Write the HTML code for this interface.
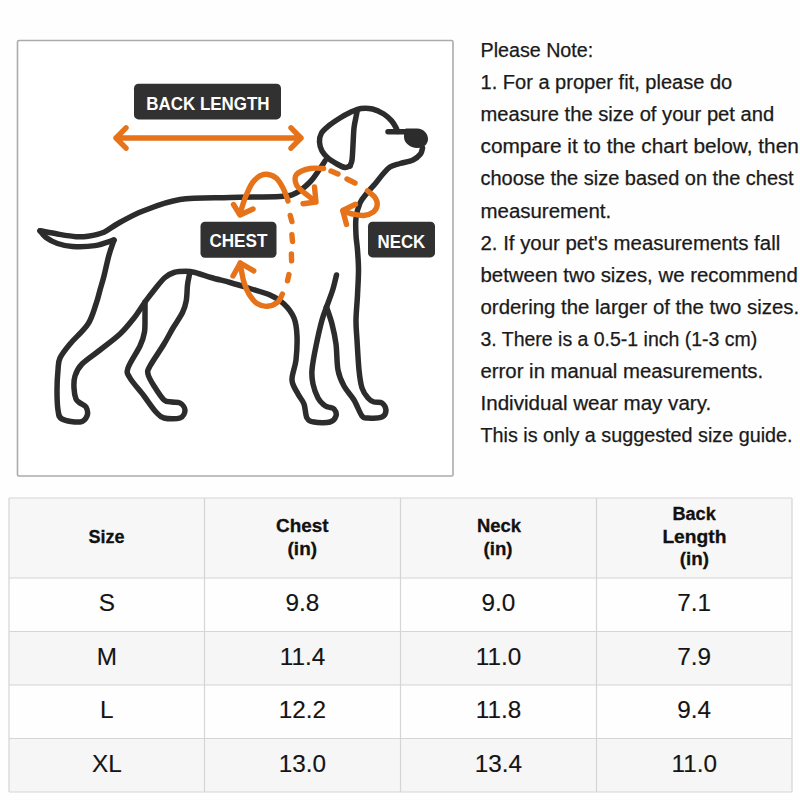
<!DOCTYPE html>
<html><head><meta charset="utf-8">
<style>
html,body{margin:0;padding:0;background:#fefefe;}
body{width:800px;height:800px;position:relative;overflow:hidden;font-family:"Liberation Sans",sans-serif;}
svg text{font-family:"Liberation Sans",sans-serif;}
</style></head>
<body>
<svg width="800" height="800" viewBox="0 0 800 800" style="position:absolute;left:0;top:0"><rect x="17.5" y="40.5" width="435.5" height="435.5" rx="1.5" fill="#ffffff" stroke="#ababab" stroke-width="1.6"/><rect x="9" y="498" width="783" height="80" fill="#f8f7f7"/><rect x="9" y="578" width="783" height="53.5" fill="#fefefe"/><rect x="9" y="631.5" width="783" height="53.5" fill="#f7f6f6"/><rect x="9" y="685" width="783" height="53.5" fill="#fefefe"/><rect x="9" y="738.5" width="783" height="53.5" fill="#f7f6f6"/><g stroke="#d6d4d4" stroke-width="1.2"><line x1="9" y1="498" x2="9" y2="792"/><line x1="204.5" y1="498" x2="204.5" y2="792"/><line x1="400.5" y1="498" x2="400.5" y2="792"/><line x1="596.5" y1="498" x2="596.5" y2="792"/><line x1="792" y1="498" x2="792" y2="792"/><line x1="9" y1="498" x2="792" y2="498"/><line x1="9" y1="578" x2="792" y2="578"/><line x1="9" y1="631.5" x2="792" y2="631.5"/><line x1="9" y1="685" x2="792" y2="685"/><line x1="9" y1="738.5" x2="792" y2="738.5"/><line x1="9" y1="792" x2="792" y2="792"/></g><g fill="#000" fill-opacity="0.02" font-size="34" font-weight="bold" letter-spacing="8"><text x="-160" y="-55" transform="rotate(-33 -160 -55)">TEMU</text><text x="8" y="-55" transform="rotate(-33 8 -55)">TEMU</text><text x="176" y="-55" transform="rotate(-33 176 -55)">TEMU</text><text x="344" y="-55" transform="rotate(-33 344 -55)">TEMU</text><text x="512" y="-55" transform="rotate(-33 512 -55)">TEMU</text><text x="680" y="-55" transform="rotate(-33 680 -55)">TEMU</text><text x="848" y="-55" transform="rotate(-33 848 -55)">TEMU</text><text x="-160" y="85" transform="rotate(-33 -160 85)">TEMU</text><text x="8" y="85" transform="rotate(-33 8 85)">TEMU</text><text x="176" y="85" transform="rotate(-33 176 85)">TEMU</text><text x="344" y="85" transform="rotate(-33 344 85)">TEMU</text><text x="512" y="85" transform="rotate(-33 512 85)">TEMU</text><text x="680" y="85" transform="rotate(-33 680 85)">TEMU</text><text x="848" y="85" transform="rotate(-33 848 85)">TEMU</text><text x="-160" y="225" transform="rotate(-33 -160 225)">TEMU</text><text x="8" y="225" transform="rotate(-33 8 225)">TEMU</text><text x="176" y="225" transform="rotate(-33 176 225)">TEMU</text><text x="344" y="225" transform="rotate(-33 344 225)">TEMU</text><text x="512" y="225" transform="rotate(-33 512 225)">TEMU</text><text x="680" y="225" transform="rotate(-33 680 225)">TEMU</text><text x="848" y="225" transform="rotate(-33 848 225)">TEMU</text><text x="-160" y="365" transform="rotate(-33 -160 365)">TEMU</text><text x="8" y="365" transform="rotate(-33 8 365)">TEMU</text><text x="176" y="365" transform="rotate(-33 176 365)">TEMU</text><text x="344" y="365" transform="rotate(-33 344 365)">TEMU</text><text x="512" y="365" transform="rotate(-33 512 365)">TEMU</text><text x="680" y="365" transform="rotate(-33 680 365)">TEMU</text><text x="848" y="365" transform="rotate(-33 848 365)">TEMU</text><text x="-160" y="505" transform="rotate(-33 -160 505)">TEMU</text><text x="8" y="505" transform="rotate(-33 8 505)">TEMU</text><text x="176" y="505" transform="rotate(-33 176 505)">TEMU</text><text x="344" y="505" transform="rotate(-33 344 505)">TEMU</text><text x="512" y="505" transform="rotate(-33 512 505)">TEMU</text><text x="680" y="505" transform="rotate(-33 680 505)">TEMU</text><text x="848" y="505" transform="rotate(-33 848 505)">TEMU</text><text x="-160" y="645" transform="rotate(-33 -160 645)">TEMU</text><text x="8" y="645" transform="rotate(-33 8 645)">TEMU</text><text x="176" y="645" transform="rotate(-33 176 645)">TEMU</text><text x="344" y="645" transform="rotate(-33 344 645)">TEMU</text><text x="512" y="645" transform="rotate(-33 512 645)">TEMU</text><text x="680" y="645" transform="rotate(-33 680 645)">TEMU</text><text x="848" y="645" transform="rotate(-33 848 645)">TEMU</text><text x="-160" y="785" transform="rotate(-33 -160 785)">TEMU</text><text x="8" y="785" transform="rotate(-33 8 785)">TEMU</text><text x="176" y="785" transform="rotate(-33 176 785)">TEMU</text><text x="344" y="785" transform="rotate(-33 344 785)">TEMU</text><text x="512" y="785" transform="rotate(-33 512 785)">TEMU</text><text x="680" y="785" transform="rotate(-33 680 785)">TEMU</text><text x="848" y="785" transform="rotate(-33 848 785)">TEMU</text><text x="-160" y="925" transform="rotate(-33 -160 925)">TEMU</text><text x="8" y="925" transform="rotate(-33 8 925)">TEMU</text><text x="176" y="925" transform="rotate(-33 176 925)">TEMU</text><text x="344" y="925" transform="rotate(-33 344 925)">TEMU</text><text x="512" y="925" transform="rotate(-33 512 925)">TEMU</text><text x="680" y="925" transform="rotate(-33 680 925)">TEMU</text><text x="848" y="925" transform="rotate(-33 848 925)">TEMU</text></g>
<rect x="134" y="83.7" width="147" height="35.7" rx="4.5" fill="#313131"/>
<rect x="200.5" y="221.8" width="76" height="36" rx="4.5" fill="#313131"/>
<rect x="368" y="221.8" width="67" height="35.6" rx="4.5" fill="#313131"/>
<g fill="#ffffff" font-size="18.5" font-weight="bold"><text x="146.3" y="110" textLength="123.3" lengthAdjust="spacingAndGlyphs">BACK LENGTH</text><text x="209.4" y="247.4" textLength="58" lengthAdjust="spacingAndGlyphs">CHEST</text><text x="377.5" y="247.7" textLength="47.8" lengthAdjust="spacingAndGlyphs">NECK</text></g><g fill="none" stroke="#2c2c2c" stroke-width="5.5" stroke-linecap="round" stroke-linejoin="round"><path d="M40.0,230.8 C42.9,231.3 51.5,233.0 57.5,234.0 C63.5,235.0 70.9,236.3 76.0,236.7 C81.1,237.1 83.3,236.9 88.0,236.2 C92.7,235.4 99.0,234.3 104.0,232.2 C109.0,230.1 111.5,227.0 118.0,223.5 C124.5,220.0 132.7,215.0 143.0,211.0 C153.3,207.0 165.5,201.8 180.0,199.5 C194.5,197.2 213.3,198.0 230.0,197.5 C246.7,197.0 269.0,197.2 280.0,196.5 C291.0,195.8 291.0,195.4 296.0,193.0 C301.0,190.6 306.2,185.8 310.0,182.0 C313.8,178.2 316.5,173.5 319.0,170.0 C321.5,166.5 324.0,162.5 325.0,161.0"/><path d="M40.0,230.8 C41.0,231.9 43.1,235.4 46.0,237.5 C48.9,239.6 53.1,242.0 57.5,243.5 C61.9,245.0 66.2,246.2 72.5,246.5 C78.8,246.8 88.1,246.7 95.0,245.6 C101.9,244.5 110.8,240.9 114.0,240.0"/><path d="M114.0,240.0 C113.2,242.5 110.7,249.0 109.0,255.0 C107.3,261.0 105.5,270.2 104.0,276.0 C102.5,281.8 101.3,285.3 100.0,290.0 C98.7,294.7 98.0,298.3 96.0,304.0 C94.0,309.7 92.3,317.3 88.0,324.0 C83.7,330.7 74.7,338.3 70.0,344.0 C65.3,349.7 62.0,353.7 60.0,358.0 C58.0,362.3 58.5,364.7 58.0,370.0 C57.5,375.3 57.0,383.3 57.0,390.0 C57.0,396.7 57.2,405.2 58.0,410.0 C58.8,414.8 58.3,417.0 62.0,419.0 C65.7,421.0 75.8,422.5 80.0,422.0 C84.2,421.5 86.0,418.5 87.0,416.0 C88.0,413.5 87.2,409.2 86.0,407.0 C84.8,404.8 81.7,404.3 80.0,403.0 C78.3,401.7 77.0,401.5 76.0,399.0 C75.0,396.5 74.2,391.8 74.0,388.0 C73.8,384.2 73.7,380.0 75.0,376.0 C76.3,372.0 77.8,368.3 82.0,364.0 C86.2,359.7 93.7,355.0 100.0,350.0 C106.3,345.0 114.3,339.3 120.0,334.0 C125.7,328.7 129.8,323.3 134.0,318.0 C138.2,312.7 141.5,306.8 145.0,302.0 C148.5,297.2 151.7,293.1 155.0,289.0 C158.3,284.9 161.8,280.2 165.0,277.5 C168.2,274.8 170.5,273.5 174.0,272.5 C177.5,271.5 182.5,271.3 186.0,271.3 C189.5,271.3 190.8,271.5 195.0,272.5 C199.2,273.5 205.2,275.8 211.0,277.5 C216.8,279.2 223.5,280.7 230.0,282.5 C236.5,284.3 243.3,286.4 250.0,288.5 C256.7,290.6 264.3,292.4 270.0,295.0 C275.7,297.6 280.0,300.2 284.0,304.0 C288.0,307.8 291.8,312.7 294.0,318.0 C296.2,323.3 296.7,329.0 297.0,336.0 C297.3,343.0 296.8,352.7 296.0,360.0 C295.2,367.3 291.7,374.3 292.0,380.0 C292.3,385.7 296.0,390.0 298.0,394.0 C300.0,398.0 302.5,400.0 304.0,404.0 C305.5,408.0 305.3,415.0 307.0,418.0 C308.7,421.0 310.2,421.3 314.0,422.0 C317.8,422.7 326.3,423.0 330.0,422.0 C333.7,421.0 335.3,418.2 336.0,416.0 C336.7,413.8 335.3,410.5 334.0,409.0 C332.7,407.5 329.7,407.7 328.0,407.0 C326.3,406.3 325.7,406.5 324.0,405.0 C322.3,403.5 319.8,401.5 318.0,398.0 C316.2,394.5 314.0,388.7 313.0,384.0 C312.0,379.3 311.5,376.3 312.0,370.0 C312.5,363.7 314.3,354.3 316.0,346.0 C317.7,337.7 320.2,326.5 322.0,320.0 C323.8,313.5 325.8,309.2 326.5,307.0"/><path d="M145.0,302.0 C145.0,304.3 145.1,311.0 145.0,316.0 C144.9,321.0 145.3,327.0 144.5,332.0 C143.7,337.0 142.8,340.0 140.0,346.0 C137.2,352.0 129.7,362.7 128.0,368.0 C126.3,373.3 127.3,373.3 130.0,378.0 C132.7,382.7 139.7,390.3 144.0,396.0 C148.3,401.7 152.7,408.3 156.0,412.0 C159.3,415.7 160.0,417.0 164.0,418.0 C168.0,419.0 176.5,419.3 180.0,418.0 C183.5,416.7 185.0,412.5 185.0,410.0 C185.0,407.5 182.2,404.3 180.0,403.0 C177.8,401.7 174.7,402.5 172.0,402.0 C169.3,401.5 167.0,402.7 164.0,400.0 C161.0,397.3 156.7,390.3 154.0,386.0 C151.3,381.7 148.7,377.3 148.0,374.0 C147.3,370.7 147.3,371.0 150.0,366.0 C152.7,361.0 160.2,350.3 164.0,344.0 C167.8,337.7 169.9,333.2 173.0,328.0 C176.1,322.8 180.3,317.0 182.5,312.5 C184.7,308.0 185.4,305.6 186.2,301.0 C187.1,296.4 187.0,289.5 187.5,285.0 C188.0,280.5 189.2,275.8 189.5,274.0"/><path d="M336.5,275.0 C335.8,277.6 334.2,285.2 332.5,290.5 C330.8,295.8 327.5,304.2 326.5,307.0"/><path d="M326.5,307.0 C327.4,309.8 330.4,317.8 332.0,324.0 C333.6,330.2 335.0,336.3 336.0,344.0 C337.0,351.7 336.7,363.0 338.0,370.0 C339.3,377.0 341.3,381.0 344.0,386.0 C346.7,391.0 351.0,395.0 354.0,400.0 C357.0,405.0 359.7,413.0 362.0,416.0 C364.3,419.0 364.7,417.8 368.0,418.0 C371.3,418.2 379.0,418.3 382.0,417.0 C385.0,415.7 386.0,412.3 386.0,410.0 C386.0,407.7 384.0,404.3 382.0,403.0 C380.0,401.7 376.3,402.8 374.0,402.0 C371.7,401.2 370.0,400.3 368.0,398.0 C366.0,395.7 363.5,392.7 362.0,388.0 C360.5,383.3 359.8,378.0 359.0,370.0 C358.2,362.0 357.5,348.3 357.0,340.0 C356.5,331.7 355.9,327.5 356.0,320.0 C356.1,312.5 357.1,303.3 357.5,295.0 C357.9,286.7 358.5,277.5 358.5,270.0 C358.5,262.5 357.9,255.8 357.5,250.0 C357.1,244.2 356.2,240.3 356.0,235.0 C355.8,229.7 355.3,223.3 356.0,218.0 C356.7,212.7 358.2,207.2 360.0,203.0 C361.8,198.8 364.5,196.2 367.0,193.0 C369.5,189.8 372.3,187.2 375.0,184.0 C377.7,180.8 380.5,176.8 383.0,174.0 C385.5,171.2 387.2,168.8 390.0,167.0 C392.8,165.2 396.2,164.7 400.0,163.5 C403.8,162.3 409.6,161.6 413.0,160.0 C416.4,158.4 418.9,156.0 420.5,154.0 C422.1,152.0 422.2,149.0 422.5,148.0"/><path d="M350.0,166.0 C349.2,166.2 347.2,167.8 345.0,167.5 C342.8,167.2 339.8,165.6 337.0,164.0 C334.2,162.4 330.5,160.2 328.0,158.0 C325.5,155.8 323.4,153.7 322.0,151.0 C320.6,148.3 319.6,145.0 319.5,142.0 C319.4,139.0 319.9,135.8 321.5,133.0 C323.1,130.2 325.9,128.0 329.0,125.5 C332.1,123.0 336.5,120.2 340.0,118.0 C343.5,115.8 346.5,114.1 350.0,112.5 C353.5,110.9 357.2,109.1 361.0,108.5 C364.8,107.9 368.7,108.1 372.5,109.0 C376.3,109.9 380.6,112.0 383.8,114.0 C386.9,116.0 389.6,118.6 391.6,120.9 C393.6,123.2 395.0,125.8 396.0,127.6 C397.0,129.4 397.2,130.8 397.5,131.5"/><path d="M350.0,166.0 C350.3,165.0 351.5,163.5 352.0,160.0 C352.5,156.5 352.7,150.3 353.0,145.0 C353.3,139.7 353.5,132.7 354.0,128.0 C354.5,123.3 355.5,119.7 356.0,117.0 C356.5,114.3 356.8,112.8 357.0,112.0"/><path d="M388,131.75 L406,131.75"/><path d="M406,128.5 L417,128.5 C424,128.5 428,134 428,139 C428,144.5 423,148.5 417,148 C410,147.5 404,143 404,137 C404,132 404.5,128.5 406,128.5 Z" fill="#2c2c2c" stroke="none"/></g><g fill="none" stroke="#e6731a" stroke-width="5.4" stroke-linecap="round" stroke-linejoin="round"><path d="M116,138 L301,138 M126,127.8 L116,138 L126,148.2 M291,127.8 L301,138 L291,148.2"/><path d="M288.0,201.0 C287.2,198.8 285.1,191.9 283.0,188.0 C280.9,184.1 278.8,179.8 275.5,177.5 C272.2,175.2 267.2,173.8 263.5,174.5 C259.8,175.2 256.0,178.2 253.0,182.0 C250.0,185.8 247.7,191.7 245.5,197.0 C243.3,202.3 240.9,211.2 240.0,214.0"/><path d="M233.5,204.5 L240,215 L253,209"/><path d="M323.5,168.5 C321.2,168.5 314.5,167.5 310.0,168.5 C305.5,169.5 298.8,171.8 296.5,174.5 C294.2,177.2 295.2,182.0 296.5,185.0 C297.8,188.0 300.9,189.8 304.0,192.5 C307.1,195.2 313.2,199.6 315.0,201.0"/><path d="M314.5,187 L316,202 L303,203.7"/><path d="M367.5,190.8 C368.8,191.9 373.4,195.1 375.0,197.5 C376.6,199.9 377.5,202.6 377.2,205.0 C377.0,207.4 375.8,210.0 373.5,211.8 C371.2,213.5 367.2,215.1 363.8,215.5 C360.2,215.9 356.0,214.8 352.5,214.0 C349.0,213.2 344.6,211.1 343.0,210.5"/><path d="M355.5,204.25 L342.75,210.5 L346.5,224.5"/><path d="M282.4,294.0 C281.6,295.4 279.9,300.3 277.4,302.4 C274.9,304.4 270.6,306.1 267.2,306.3 C263.8,306.5 260.1,305.5 257.1,303.5 C254.1,301.5 251.4,297.9 249.2,294.5 C247.1,291.1 245.4,286.8 244.2,283.2 C243.0,279.7 242.6,276.5 241.9,273.1 C241.2,269.7 240.5,264.7 240.2,263.0"/><path d="M233,276 L240.25,263 L253.75,270.9"/></g><g fill="none" stroke="#e6731a" stroke-width="5.4" stroke-linecap="round"><path d="M290.25,215.4 L291.9,221.6"/><path d="M291.9,234.7 L292.5,241.6"/><path d="M291.4,254 L291.6,260.8"/><path d="M288.9,274.6 L287.5,280.8"/><path d="M331,171 L338,174"/><path d="M347,179 L355,183"/></g><g fill="#1a1a1a" stroke="#1a1a1a" stroke-width="0.25" font-size="19.6"><text x="480.5" y="57.0" textLength="112.7" lengthAdjust="spacingAndGlyphs">Please Note:</text><text x="480.5" y="89.1" textLength="251.7" lengthAdjust="spacingAndGlyphs">1. For a proper fit, please do</text><text x="480.5" y="121.2" textLength="293.7" lengthAdjust="spacingAndGlyphs">measure the size of your pet and</text><text x="480.5" y="153.3" textLength="318.3" lengthAdjust="spacingAndGlyphs">compare it to the chart below, then</text><text x="480.5" y="185.4" textLength="313.1" lengthAdjust="spacingAndGlyphs">choose the size based on the chest</text><text x="480.5" y="217.5" textLength="130.7" lengthAdjust="spacingAndGlyphs">measurement.</text><text x="480.5" y="249.6" textLength="299.7" lengthAdjust="spacingAndGlyphs">2. If your pet's measurements fall</text><text x="480.5" y="281.7" textLength="317.3" lengthAdjust="spacingAndGlyphs">between two sizes, we recommend</text><text x="480.5" y="313.8" textLength="318.7" lengthAdjust="spacingAndGlyphs">ordering the larger of the two sizes.</text><text x="480.5" y="345.9" textLength="276.7" lengthAdjust="spacingAndGlyphs">3. There is a 0.5-1 inch (1-3 cm)</text><text x="480.5" y="378.0" textLength="282.7" lengthAdjust="spacingAndGlyphs">error in manual measurements.</text><text x="480.5" y="410.1" textLength="230.7" lengthAdjust="spacingAndGlyphs">Individual wear may vary.</text><text x="480.5" y="442.2" textLength="312.1" lengthAdjust="spacingAndGlyphs">This is only a suggested size guide.</text></g><g fill="#111" stroke="#111" stroke-width="0.3" font-size="18.3" font-weight="bold" text-anchor="middle"><text x="106.5" y="543.4" textLength="36" lengthAdjust="spacingAndGlyphs">Size</text><text x="302.3" y="531.5" textLength="52.5" lengthAdjust="spacingAndGlyphs">Chest</text><text x="302.3" y="554.8" textLength="29.5" lengthAdjust="spacingAndGlyphs">(in)</text><text x="499" y="531.5" textLength="44" lengthAdjust="spacingAndGlyphs">Neck</text><text x="498" y="554.8" textLength="29" lengthAdjust="spacingAndGlyphs">(in)</text><text x="694.1" y="520.3" textLength="43.3" lengthAdjust="spacingAndGlyphs">Back</text><text x="694.4" y="542.5" textLength="64" lengthAdjust="spacingAndGlyphs">Length</text><text x="694.4" y="565" textLength="29.2" lengthAdjust="spacingAndGlyphs">(in)</text></g><g fill="#141414" stroke="#141414" stroke-width="0.15" font-size="24.3" text-anchor="middle"><text x="106.8" y="611.1">S</text><text x="302.5" y="611.1">9.8</text><text x="498.5" y="611.1">9.0</text><text x="694.2" y="611.1">7.1</text><text x="106.8" y="664.6">M</text><text x="302.5" y="664.6">11.4</text><text x="498.5" y="664.6">11.0</text><text x="694.2" y="664.6">7.9</text><text x="106.8" y="718.1">L</text><text x="302.5" y="718.1">12.2</text><text x="498.5" y="718.1">11.8</text><text x="694.2" y="718.1">9.4</text><text x="106.8" y="771.6">XL</text><text x="302.5" y="771.6">13.0</text><text x="498.5" y="771.6">13.4</text><text x="694.2" y="771.6">11.0</text></g></svg>
</body></html>
